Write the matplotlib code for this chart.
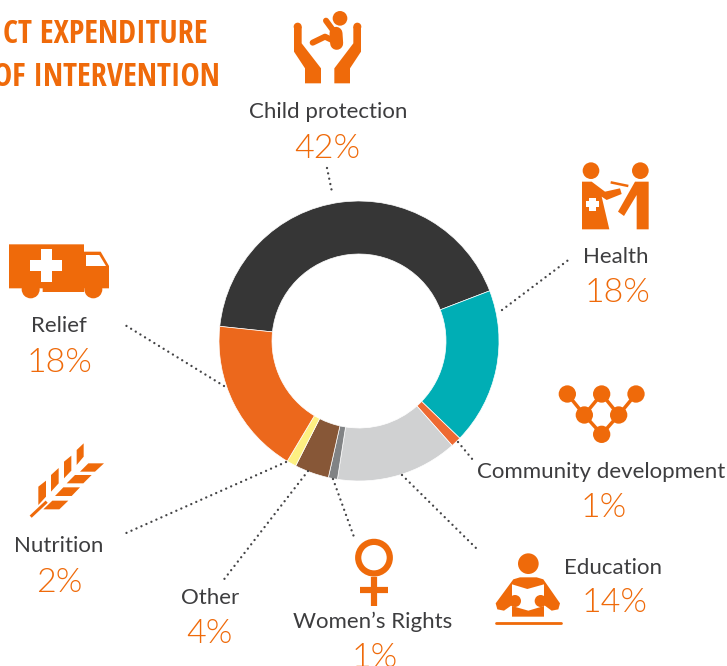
import matplotlib
matplotlib.use("Agg")
import matplotlib.pyplot as plt
from matplotlib.patches import Polygon, Circle, Rectangle

# ---- data ----
categories = ["Child protection", "Health", "Community development", "Education",
              "Women’s Rights", "Other", "Nutrition", "Relief"]
labels_pct = ["42%", "18%", "1%", "14%", "1%", "4%", "2%", "18%"]
shares = [42.5, 18.05, 1.2, 14.05, 1.05, 3.95, 1.1, 18.1]
colors = ["#363636", "#00AEB5", "#EE6A32", "#D0D1D2", "#818385", "#875737", "#FDF082", "#EC681C"]
title_lines = ["CT EXPENDITURE", "OF INTERVENTION"]

ORANGE = "#EF6A0A"
TEXT = "#3D3D3F"
W, H = 727, 666

plt.rcParams["font.family"] = ["Lato", "DejaVu Sans"]
fig = plt.figure(figsize=(W / 100, H / 100), dpi=100)
ax = fig.add_axes([0, 0, 1, 1])


def Y(py):
    return H - py


def P(pts, ox=0, oy=0, s=1.0):
    return [(ox + x * s, Y(oy + y * s)) for x, y in pts]


ax.pie(shares, colors=colors, startangle=174, counterclock=False,
       center=(359, Y(341)), radius=140,
       wedgeprops=dict(width=53, edgecolor="white", linewidth=0.5))
ax.set_xlim(0, W)
ax.set_ylim(0, H)
ax.set_aspect("equal")
ax.axis("off")

# ---- leader lines ----
leaders = [((327, 168), (332, 192)), ((502, 310), (571, 258)), ((458, 442), (473, 460)),
           ((402, 475), (478, 550)), ((333, 479), (354, 537)), ((308, 471), (222, 582)),
           ((286, 462), (124, 534)), ((224, 386), (125, 325))]
for (a, b) in leaders:
    ax.plot([a[0], b[0]], [Y(a[1]), Y(b[1])], color="#444446", lw=1.7,
            linestyle=(0, (0.01, 2.3)), dash_capstyle="round")

# ---- labels ----
label_pos = [(328, 112), (616, 257), (601, 472), (613, 568), (373, 622), (210, 598), (59, 546), (59, 326)]
pct_pos = [(327, 149), (617, 293), (604, 508), (615, 603), (375, 658), (209, 634), (59, 583), (59, 363)]
for name, (x, y) in zip(categories, label_pos):
    ax.text(x, Y(y), name, ha="center", va="center", fontsize=16, color=TEXT, fontweight="normal")
for pct, (x, y) in zip(labels_pct, pct_pos):
    ax.text(x, Y(y), pct, ha="center", va="center", fontsize=24.5, color=ORANGE, fontweight=300,
            clip_on=False)

# ---- title ----
ax.text(208, Y(43), title_lines[0], ha="right", va="baseline", fontsize=23.2,
        family="Open Sans Condensed", fontweight="bold", color=ORANGE)
ax.text(220, Y(86), title_lines[1], ha="right", va="baseline", fontsize=23.2,
        family="Open Sans Condensed", fontweight="bold", color=ORANGE)


def poly(pts, ox, oy, s=1 / 3, color=ORANGE, **kw):
    ax.add_patch(Polygon(P(pts, ox, oy, s), closed=True, fc=color, ec="none", **kw))


def circ(x, y, r, ox, oy, s=1 / 3, color=ORANGE):
    ax.add_patch(Circle((ox + x * s, Y(oy + y * s)), r * s, fc=color, ec="none"))


def thick(pts, width_px, ox, oy, s=1 / 3, color=ORANGE, cap="round"):
    xy = P(pts, ox, oy, s)
    ax.plot([p[0] for p in xy], [p[1] for p in xy], color=color, lw=width_px * 0.72,
            solid_capstyle=cap, solid_joinstyle="round")


# ---- child protection icon ----
poly([(882, 80), (905, 80), (905, 130), (963, 205), (963, 250), (915, 250), (915, 205), (882, 155)], 0, 0)
poly([(1083, 80), (1060, 80), (1060, 130), (1003, 205), (1003, 250), (1050, 250), (1050, 205), (1083, 155)], 0, 0)
circ(893, 80, 12, 0, 0)
circ(1072, 80, 12, 0, 0)
circ(1020, 55, 22, 0, 0)
thick([(978, 62), (1000, 92)], 6, 0, 0)
thick([(938, 128), (975, 110), (1000, 122)], 6, 0, 0)
thick([(1008, 100), (1010, 130)], 13, 0, 0)

# ---- health icon ----
HX, HY = 480, 150
circ(333, 62, 25, HX, HY)
circ(481, 62, 25, HX, HY)
poly([(306, 95), (335, 95), (375, 125), (420, 115), (425, 132), (380, 150), (365, 140), (388, 238), (306, 238)], HX, HY)
poly([(318, 153), (328, 153), (328, 143), (348, 143), (348, 153), (358, 153), (358, 172), (348, 172), (348, 183),
      (328, 183), (328, 172), (318, 172)], HX, HY, color="white")
poly([(506, 95), (465, 95), (414, 185), (432, 198), (470, 135), (470, 238), (506, 238)], HX, HY)
thick([(392, 97), (445, 108)], 2.5, HX, HY, cap="butt")

# ---- community development icon ----
nodes = [(262, 732), (365, 732), (468, 732), (313, 795), (416, 795), (365, 853)]
links = [(0, 3), (2, 4), (1, 3), (1, 4), (3, 5), (4, 5)]
for i, j in links:
    thick([nodes[i], nodes[j]], 3.5, HX, HY, cap="butt")
for nx, ny in nodes:
    circ(nx, ny, 26, HX, HY)

# ---- women's rights icon ----
WX, WY = 340, 520
ax.add_patch(Circle((WX + 102 / 3, Y(WY + 113 / 3)), 15.8, fc="none", ec=ORANGE, lw=6.2 * 0.72))
thick([(102, 170), (102, 257)], 6.2, WX, WY, cap="butt")
thick([(60, 211), (145, 211)], 6.2, WX, WY, cap="butt")

# ---- education icon ----
circ(565, 131, 31, WX, WY)
poly([(540, 172), (590, 172), (610, 178), (660, 250), (655, 268), (635, 272), (612, 255), (612, 290), (516, 290),
      (516, 255), (492, 272), (472, 268), (467, 250), (520, 178)], WX, WY)
poly([(516, 193), (562, 207), (612, 193), (612, 258), (565, 272), (516, 258)], WX, WY, color="white")
circ(525, 243, 18, WX, WY)
circ(602, 243, 18, WX, WY)
thick([(468, 308), (663, 308)], 2.8, WX, WY)

# ---- relief truck icon ----
RX, RY = 0, 230
poly([(27, 43), (252, 43), (252, 65), (302, 65), (327, 108), (327, 175), (252, 175), (252, 186), (128, 186), (128, 175), (27, 175)], RX, RY)
poly([(258, 75), (298, 75), (318, 108), (258, 108)], RX, RY, color="white")
poly([(90, 91), (122, 91), (122, 58), (155, 58), (155, 91), (186, 91), (186, 124), (155, 124), (155, 155), (122, 155),
      (122, 124), (90, 124)], RX, RY, color="white")
circ(92, 178, 27, RX, RY)
circ(280, 178, 27, RX, RY)

# ---- nutrition icon ----
thick([(92, 860), (140, 815)], 3, RX, RY, cap="butt")
for q in [[(115, 770), (138, 752), (138, 800), (115, 825)],
          [(153, 735), (176, 714), (176, 760), (153, 785)],
          [(192, 695), (214, 677), (214, 722), (192, 745)],
          [(230, 660), (251, 640), (251, 680), (230, 705)],
          [(130, 838), (178, 838), (205, 812), (157, 812)],
          [(165, 798), (215, 798), (240, 772), (190, 772)],
          [(200, 760), (250, 760), (275, 735), (225, 735)],
          [(240, 725), (285, 725), (312, 700), (265, 700)]]:
    poly(q, RX, RY)

fig.savefig("out.png", dpi=100, facecolor="white")
